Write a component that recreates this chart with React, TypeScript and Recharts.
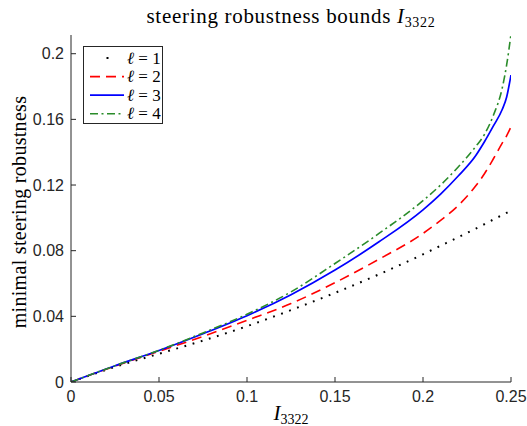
import React from 'react';
import { LineChart, Line, XAxis, YAxis, Legend } from 'recharts';

const xValues = [0, 0.025, 0.05, 0.075, 0.1, 0.125, 0.15, 0.175, 0.2, 0.21, 0.22, 0.23, 0.235, 0.24, 0.245, 0.2475, 0.25];
const ell1 = [0, 0.0092, 0.0172, 0.0252, 0.034, 0.0438, 0.0543, 0.0656, 0.0778, 0.083, 0.0882, 0.0935, 0.0962, 0.099, 0.1017, 0.1031, 0.1045];
const ell2 = [0, 0.0097, 0.0187, 0.0278, 0.0376, 0.0478, 0.0605, 0.0748, 0.0905, 0.0985, 0.1075, 0.1195, 0.127, 0.136, 0.1455, 0.150, 0.1555];
const ell3 = [0, 0.0099, 0.0192, 0.0294, 0.0404, 0.0532, 0.0682, 0.0854, 0.1049, 0.1145, 0.1255, 0.138, 0.1465, 0.156, 0.166, 0.1735, 0.187];
const ell4 = [0, 0.0099, 0.0193, 0.0299, 0.0413, 0.0549, 0.0722, 0.0905, 0.1105, 0.12, 0.131, 0.1435, 0.151, 0.1625, 0.179, 0.193, 0.212];

const xTicks = [0, 0.05, 0.1, 0.15, 0.2, 0.25];
const yTicks = [0, 0.04, 0.08, 0.12, 0.16, 0.2];
const legendLabels = ['1', '2', '3', '4'];

const data = xValues.map((x, i) => ({ x, l1: ell1[i], l2: ell2[i], l3: ell3[i], l4: ell4[i] }));

const series = [
  { key: 'l1', color: '#000000', dash: '1.8 6.7', width: 2 },
  { key: 'l2', color: '#ff0000', dash: '10 6', width: 1.6 },
  { key: 'l3', color: '#0000ff', dash: undefined, width: 1.7 },
  { key: 'l4', color: '#2a8c2a', dash: '8 3.5 2 3.5', width: 1.6 },
];

const AXIS = '#262626';
const SERIF = '"Liberation Serif", "DejaVu Serif", serif';
const SANS = '"Liberation Sans", Arial, sans-serif';

const EmptyTick = () => <g />;

const LegendBox = () => (
  <div
    style={{
      width: 80,
      height: 78,
      border: `1px solid ${AXIS}`,
      background: '#fff',
      boxSizing: 'border-box',
      position: 'relative',
    }}
  >
    <svg width={80} height={78} style={{ position: 'absolute', left: 0, top: 0 }}>
      {series.map((s, i) => {
        const cy = 11 + i * 18.6;
        return (
          <g key={s.key}>
            {i === 0 ? (
              <rect x={22.5} y={cy - 1} width={2} height={2} fill={s.color} />
            ) : (
              <line
                x1={6}
                x2={40}
                y1={cy}
                y2={cy}
                stroke={s.color}
                strokeWidth={s.width}
                strokeDasharray={s.dash}
              />
            )}
            <text x={43} y={cy + 5.5} fontFamily={SERIF} fontSize={17} fill="#000">
              <tspan fontStyle="italic">ℓ</tspan>
              <tspan> = {legendLabels[i]}</tspan>
            </text>
          </g>
        );
      })}
    </svg>
  </div>
);

export default function App() {
  return (
    <div style={{ position: 'absolute', left: 0, top: 0, width: 527, height: 426, background: '#fff' }}>
      <LineChart
        width={527}
        height={426}
        data={data}
        margin={{ top: 35, right: 16, left: 11, bottom: 14 }}
      >
        <XAxis
          xAxisId="bottom"
          dataKey="x"
          type="number"
          domain={[0, 0.25]}
          ticks={xTicks}
          allowDataOverflow
          height={30}
          tickSize={-5}
          tickMargin={14}
          stroke={AXIS}
          tick={{ fill: AXIS, fontSize: 16, fontFamily: SANS }}
          tickLine={{ stroke: AXIS }}
        />
        <XAxis
          xAxisId="top"
          orientation="top"
          dataKey="x"
          type="number"
          domain={[0, 0.25]}
          ticks={xTicks}
          allowDataOverflow
          height={0}
          tickSize={-5}
          stroke={AXIS}
          tick={EmptyTick}
          tickLine={{ stroke: AXIS }}
        />
        <YAxis
          yAxisId="left"
          type="number"
          domain={[0, 0.2114]}
          ticks={yTicks}
          allowDataOverflow
          width={60}
          tickSize={-5}
          tickMargin={12}
          stroke={AXIS}
          tick={{ fill: AXIS, fontSize: 16, fontFamily: SANS }}
          tickLine={{ stroke: AXIS }}
        />
        <YAxis
          yAxisId="right"
          orientation="right"
          type="number"
          domain={[0, 0.2114]}
          ticks={yTicks}
          allowDataOverflow
          width={0}
          tickSize={-5}
          stroke={AXIS}
          tick={EmptyTick}
          tickLine={{ stroke: AXIS }}
        />
        {series.map((s) => (
          <Line
            key={s.key}
            xAxisId="bottom"
            yAxisId="left"
            dataKey={s.key}
            type="monotone"
            stroke={s.color}
            strokeWidth={s.width}
            strokeDasharray={s.dash}
            dot={false}
            activeDot={false}
            isAnimationActive={false}
          />
        ))}
        <Legend
          layout="vertical"
          align="center"
          verticalAlign="middle"
          content={() => <LegendBox />}
          wrapperStyle={{ position: 'absolute', left: 83, top: 46, width: 80, height: 78 }}
        />
      </LineChart>
      <svg
        width={527}
        height={426}
        style={{ position: 'absolute', left: 0, top: 0, pointerEvents: 'none' }}
      >
        <text x={291} y={23} textAnchor="middle" fontFamily={SERIF} fontSize={21} letterSpacing={0.7} fill="#000">
          steering robustness bounds <tspan fontStyle="italic">I</tspan>
          <tspan fontSize={14} dy={4}>3322</tspan>
        </text>
        <text x={291} y={420} textAnchor="middle" fontFamily={SERIF} fontSize={21} fill="#000">
          <tspan fontStyle="italic">I</tspan>
          <tspan fontSize={14} dy={4}>3322</tspan>
        </text>
        <text
          x={0}
          y={0}
          transform="translate(26,212) rotate(-90)"
          textAnchor="middle"
          fontFamily={SERIF}
          fontSize={20}
          letterSpacing={0.3}
          fill="#000"
        >
          minimal steering robustness
        </text>
      </svg>
    </div>
  );
}
